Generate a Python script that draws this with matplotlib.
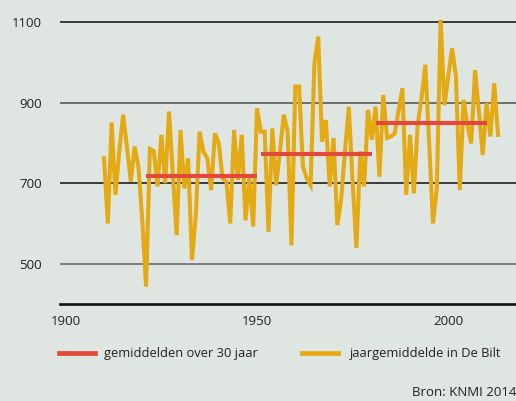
import matplotlib.pyplot as plt
from matplotlib.lines import Line2D

plt.rcParams['font.family'] = ['Open Sans', 'DejaVu Sans']

# jaarlijkse waarden De Bilt
years = list(range(1910, 2014))
values = [762, 600, 851, 671, 780, 870, 790, 704, 791, 741,
          610, 443, 785, 780, 692, 820, 700, 878, 720, 571,
          832, 687, 762, 509, 620, 828, 778, 762, 683, 824,
          799, 712, 704, 600, 832, 708, 820, 608, 712, 592,
          886, 828, 828, 579, 836, 695, 780, 870, 828, 546,
          940, 940, 741, 712, 695, 998, 1064, 803, 857, 692,
          812, 596, 660, 780, 890, 700, 539, 779, 692, 882,
          808, 890, 716, 919, 812, 816, 824, 880, 936, 671,
          820, 675, 845, 911, 994, 800, 600, 687, 1106, 894,
          965, 1035, 965, 683, 907, 845, 799, 981, 878, 770,
          899, 816, 948, 820]

# 30-jaars gemiddelden
period_start = [1921, 1951, 1981]
period_end = [1950, 1980, 2010]
period_mean = [718, 773, 849]

yticks = [500, 700, 900, 1100]
xticks = [1900, 1950, 2000]

bg = '#dfe5e1'
yellow = '#e4aa13'
red = '#e3493b'

fig = plt.figure(figsize=(5.16, 4.01), dpi=100, facecolor=bg)
ax = fig.add_axes([60 / 516, 97 / 401, 456 / 516, 304 / 401])
ax.set_facecolor(bg)
ax.set_xlim(1898.5, 2017.7)
ax.set_ylim(400, 1155)

grid_colors = ['#6a6a6a', '#1e1e1e', '#5a5a5a', '#1e1e1e']
for t, c in zip(yticks, grid_colors):
    ax.axhline(t, color=c, lw=1.2, zorder=1)

ax.plot(years, values, color=yellow, lw=2.9, solid_joinstyle='miter', zorder=2)
ax.hlines(period_mean, period_start, period_end, color=red, lw=3.0, zorder=3)

for s in ['top', 'right', 'left']:
    ax.spines[s].set_visible(False)
ax.spines['bottom'].set_color('#111111')
ax.spines['bottom'].set_linewidth(1.9)

ax.set_yticks(yticks)
ax.set_xticks(xticks)
ax.tick_params(length=0, labelsize=9.5, colors='#222222')
ax.tick_params(axis='y', pad=13)
ax.tick_params(axis='x', pad=8)

# legenda
fig.add_artist(Line2D([59 / 516, 95 / 516], [48 / 401, 48 / 401], color=red, lw=3.4))
fig.text(104 / 516, 48 / 401, 'gemiddelden over 30 jaar', fontsize=9.3,
         color='#222222', va='center', ha='left')
fig.add_artist(Line2D([302 / 516, 338 / 516], [48 / 401, 48 / 401], color=yellow, lw=3.4))
fig.text(350 / 516, 48 / 401, 'jaargemiddelde in De Bilt', fontsize=9.3,
         color='#222222', va='center', ha='left')

fig.text(1.0, 8 / 401, 'Bron: KNMI 2014', fontsize=9.5, color='#222222',
         va='center', ha='right')

plt.savefig('out.png', dpi=100, facecolor=bg)
